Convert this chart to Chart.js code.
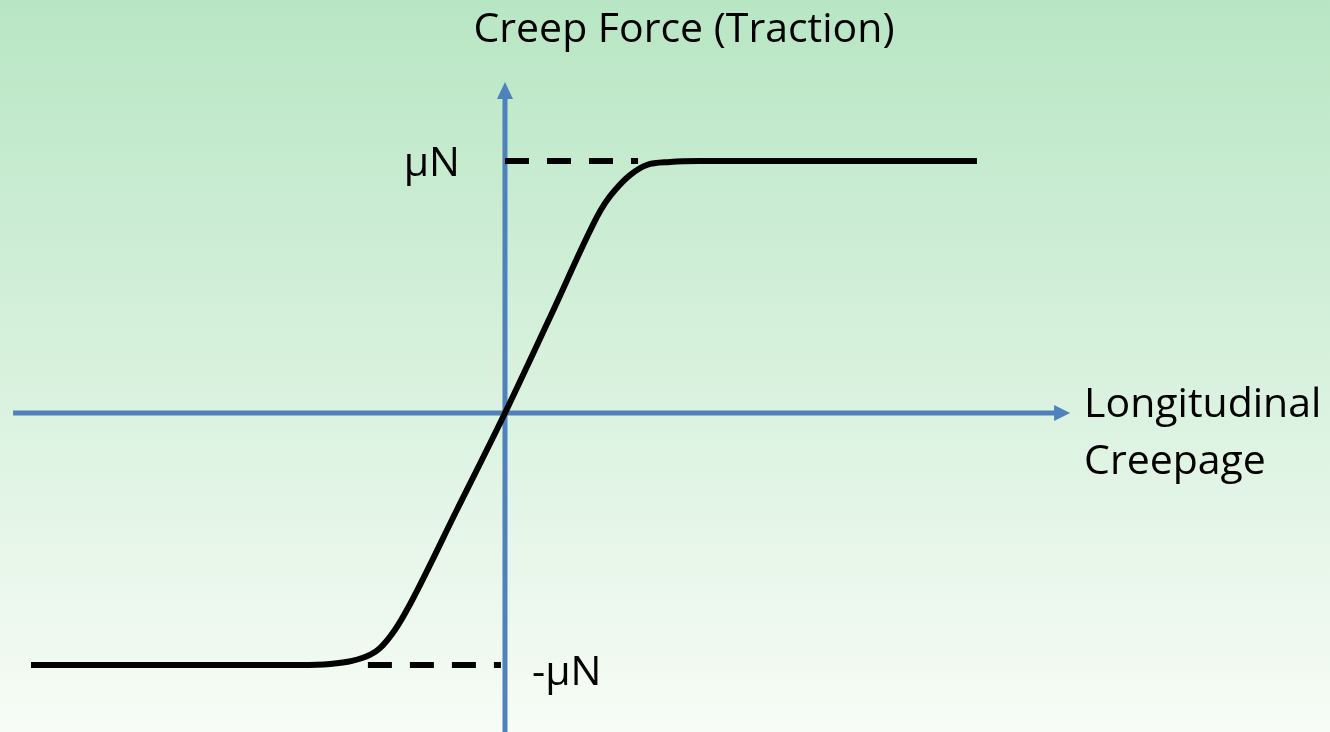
<!DOCTYPE html>
<html>
<head>
<meta charset="utf-8">
<script src="https://cdn.jsdelivr.net/npm/chart.js@4"></script>
<style>
  html, body { margin: 0; padding: 0; }
  canvas { display: block; }
</style>
</head>
<body>
<canvas id="graph" width="1330" height="732"></canvas>
<script>
// Creep force curve (x = creepage, y = force / muN)
const curveX = [-1.881, -0.813, -0.694, -0.607, -0.536, -0.496, -0.437, -0.385, -0.192, 0, 0.183, 0.365, 0.397, 0.437, 0.496, 0.563, 0.655, 0.774, 1.873];
const curveY = [-1, -1, -0.996, -0.984, -0.960, -0.933, -0.861, -0.774, -0.387, 0, 0.389, 0.778, 0.833, 0.885, 0.944, 0.984, 0.996, 1, 1];

// Dashed guide lines at +muN and -muN
const upperGuideX = [0, 0.528];
const upperGuideY = [1, 1];
const lowerGuideX = [-0.544, -0.016];
const lowerGuideY = [-1, -1];

// Axes
const xAxisX = [-1.952, 2.183];
const xAxisY = [0, 0];
const yAxisX = [0, 0];
const yAxisY = [-1.3, 1.25];

const title = 'Creep Force (Traction)';
const xLabel = ['Longitudinal', 'Creepage'];
const upperLabel = 'μN';
const lowerLabel = '-μN';

const pts = (xs, ys) => xs.map((x, i) => ({ x: x, y: ys[i] }));

const blue = '#4F81BD';
const font = '41px "Open Sans"';

const backgroundPlugin = {
    id: 'background',
    beforeDraw(chart) {
        const c = chart.ctx;
        const g = c.createLinearGradient(0, 0, 0, chart.height);
        g.addColorStop(0, 'rgb(184,230,196)');
        g.addColorStop(1, 'rgb(247,252,246)');
        c.save();
        c.fillStyle = g;
        c.fillRect(0, 0, chart.width, chart.height);
        c.restore();
    }
};

const decorPlugin = {
    id: 'decor',
    afterDatasetsDraw(chart) {
        const c = chart.ctx;
        const xs = chart.scales.x;
        const ys = chart.scales.y;
        c.save();
        // arrow heads
        c.fillStyle = blue;
        const hx = xs.getPixelForValue(xAxisX[1]);
        const hy = ys.getPixelForValue(0);
        c.beginPath();
        c.moveTo(hx - 1, hy - 8);
        c.lineTo(hx + 15, hy);
        c.lineTo(hx - 1, hy + 8);
        c.closePath();
        c.fill();
        const vx = xs.getPixelForValue(0);
        const vy = ys.getPixelForValue(yAxisY[1]);
        c.beginPath();
        c.moveTo(vx - 8, vy + 1);
        c.lineTo(vx, vy - 16);
        c.lineTo(vx + 8, vy + 1);
        c.closePath();
        c.fill();

        // texts
        c.fillStyle = '#000';
        c.font = font;
        c.textBaseline = 'alphabetic';
        c.textAlign = 'center';
        c.fillText(title, vx + 179, 42);
        c.textAlign = 'left';
        c.fillText(xLabel[0], hx + 29, hy + 4);
        c.fillText(xLabel[1], hx + 29, hy + 61);
        c.textAlign = 'right';
        c.fillText(upperLabel, vx - 45, ys.getPixelForValue(1) + 15);
        c.textAlign = 'left';
        c.fillText(lowerLabel, vx + 27, ys.getPixelForValue(-1) + 20);
        c.restore();
    }
};

const ctx = document.getElementById('graph').getContext('2d');
const chart = new Chart(ctx, {
    type: 'line',
    data: {
        datasets: [
            {
                data: pts(curveX, curveY),
                borderColor: '#000',
                borderWidth: 6,
                cubicInterpolationMode: 'monotone',
                order: 0,
            },
            {
                data: pts(upperGuideX, upperGuideY),
                borderColor: '#000',
                borderWidth: 6,
                borderDash: [24, 18],
                order: 1,
            },
            {
                data: pts(lowerGuideX, lowerGuideY),
                borderColor: '#000',
                borderWidth: 6,
                borderDash: [24, 18],
                order: 1,
            },
            {
                data: pts(xAxisX, xAxisY),
                borderColor: blue,
                borderWidth: 5,
                order: 2,
            },
            {
                data: pts(yAxisX, yAxisY),
                borderColor: blue,
                borderWidth: 5,
                order: 2,
            },
        ],
    },
    options: {
        responsive: false,
        animation: false,
        events: [],
        layout: { padding: 0 },
        elements: {
            point: { radius: 0 },
            line: { borderCapStyle: 'butt', fill: false },
        },
        scales: {
            x: { type: 'linear', min: -2.004, max: 3.274, display: false },
            y: { type: 'linear', min: -1.266, max: 1.639, display: false },
        },
        plugins: {
            legend: { display: false },
            tooltip: { enabled: false },
        },
    },
    plugins: [backgroundPlugin, decorPlugin],
});
</script>
</body>
</html>
